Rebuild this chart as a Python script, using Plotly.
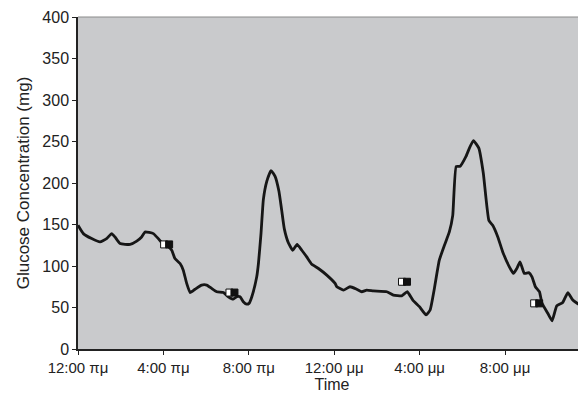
import plotly.graph_objects as go

# Glucose trace (time in hours from midnight, concentration in mg)
hours = [0.00, 0.25, 0.64, 1.03, 1.34, 1.58, 1.73, 1.97, 2.44, 2.75, 2.98, 3.14, 3.53, 3.76,
         4.00, 4.23, 4.39, 4.54, 4.78, 4.93, 5.09, 5.25, 5.48, 5.79, 6.03, 6.26, 6.50, 6.81,
         7.04, 7.27, 7.43, 7.59, 7.74, 7.90, 8.01, 8.14, 8.37, 8.45, 8.57, 8.68, 8.84, 9.04,
         9.23, 9.41, 9.54, 9.66, 9.85, 10.06, 10.26, 10.48, 10.71, 10.95, 11.26, 11.65, 12.04,
         12.12, 12.43, 12.74, 13.05, 13.29, 13.52, 13.83, 14.46, 14.77, 15.16, 15.42, 15.68,
         15.99, 16.30, 16.49, 16.69, 16.92, 17.16, 17.39, 17.55, 17.71, 17.89, 18.17, 18.33,
         18.52, 18.77, 18.98, 19.24, 19.42, 19.66, 19.89, 20.20, 20.39, 20.55, 20.70, 20.90,
         21.11, 21.26, 21.42, 21.61, 21.73, 22.00, 22.20, 22.42, 22.70, 22.94, 23.17, 23.45, 23.79]
glucose = [149, 139, 133, 129, 133, 139, 135, 127, 126, 130, 135, 141, 139, 133,
           126, 123, 119, 109, 103, 95, 79, 68, 72, 77, 77, 73, 69, 68,
           63, 60, 63, 63, 57, 54, 55, 63, 87, 103, 139, 180, 202, 215,
           208, 190, 167, 145, 128, 119, 126, 119, 111, 102, 97, 89, 79,
           75, 71, 75, 72, 69, 71, 70, 69, 65, 64, 69, 59,
           51, 41, 47, 73, 107, 125, 141, 161, 220, 220, 232, 242,
           251, 242, 212, 155, 149, 135, 117, 99, 91, 97, 105, 91,
           92, 87, 75, 69, 55, 43, 34, 52, 56, 68, 59, 54, 54]

# Event markers
event_hours = [4.15, 7.21, 15.29, 21.48]
event_values = [126, 68, 81, 55]

tick_vals = [0, 4, 8, 12, 16, 20]
tick_text = ["12:00 πμ", "4:00 πμ", "8:00 πμ", "12:00 μμ", "4:00 μμ", "8:00 μμ"]
y_ticks = [0, 50, 100, 150, 200, 250, 300, 350, 400]

W, H = 578, 387
ML, MR, MT, MB = 70, 0, 9, 46
x_max = 23.79
plot_w = W - ML - MR
half = 2.5 * x_max / plot_w  # half-marker offset in hours

FONT = "Liberation Sans, Arial, sans-serif"

fig = go.Figure()
fig.add_trace(go.Scatter(x=hours, y=glucose, mode="lines",
                         line=dict(color="#161616", width=2.8, shape="spline", smoothing=0.4),
                         hoverinfo="skip", showlegend=False))
fig.add_trace(go.Scatter(x=[h - half for h in event_hours], y=event_values, mode="markers",
                         marker=dict(symbol="square", size=7, color="white",
                                     line=dict(color="#111", width=1)),
                         showlegend=False))
fig.add_trace(go.Scatter(x=[h + half for h in event_hours], y=event_values, mode="markers",
                         marker=dict(symbol="square", size=7, color="#111",
                                     line=dict(color="#111", width=1)),
                         showlegend=False))

fig.update_layout(
    width=W, height=H,
    margin=dict(l=ML, r=MR, t=MT, b=MB),
    paper_bgcolor="white", plot_bgcolor="#c9cacc",
    font=dict(family=FONT, size=15, color="#222"),
    showlegend=False,
)
fig.update_xaxes(range=[0, x_max], tickvals=tick_vals, ticktext=tick_text,
                 showgrid=False, zeroline=False, showline=True, linecolor="#222", linewidth=1.5,
                 ticks="outside", ticklen=4, tickcolor="#222",
                 tickfont=dict(size=15),
                 title=dict(text="Time", font=dict(size=16), standoff=1))
fig.update_yaxes(range=[0, 400], tickvals=y_ticks,
                 showgrid=False, zeroline=False, showline=True, linecolor="#222", linewidth=1.5,
                 ticks="outside", ticklen=4, tickcolor="#222",
                 tickfont=dict(size=16),
                 title=dict(text="Glucose Concentration (mg)", font=dict(size=17), standoff=8))
fig.add_shape(type="line", xref="paper", yref="paper", x0=0, x1=1, y0=1, y1=1,
              line=dict(color="#8a8a8a", width=1))

fig.write_html("out.html")
